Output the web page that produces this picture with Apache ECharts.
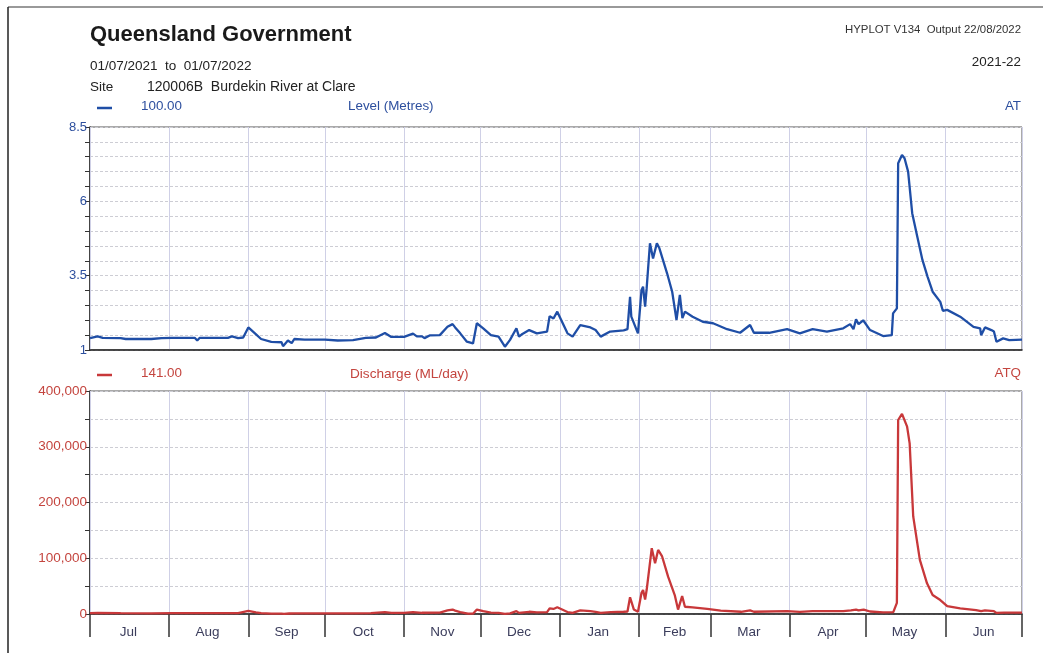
<!DOCTYPE html>
<html>
<head>
<meta charset="utf-8">
<script src="https://cdn.jsdelivr.net/npm/echarts@6/dist/echarts.min.js"></script>
<style>
html,body{margin:0;padding:0;background:#fff;}
#chart{width:1043px;height:653px;}
</style>
</head>
<body>
<div id="chart"></div>
<script>
// ---- Data ----
const months = ['Jul','Aug','Sep','Oct','Nov','Dec','Jan','Feb','Mar','Apr','May','Jun'];
const monthDays = [31,31,30,31,30,31,31,28,31,30,31,30];
const levelTickLabels = [1, 3.5, 6, 8.5];
const flowTickLabels = [0, 100000, 200000, 300000, 400000];

// Level (Metres), [day since 01/07/2021, value]
const levelData = [
[0,1.40],[3,1.46],[5,1.41],[12,1.40],[14,1.37],[24,1.37],[28,1.40],[32,1.41],[41,1.41],[42,1.32],[43,1.41],
[54,1.41],[55.6,1.46],[58,1.40],[60,1.42],[62,1.76],[64.6,1.56],[67,1.37],[71,1.27],[75,1.26],[75.6,1.13],
[77.5,1.32],[79,1.23],[80,1.37],[84,1.35],[92,1.35],[97,1.32],[103,1.33],[108,1.41],[112,1.42],[115.5,1.57],
[118,1.44],[123,1.44],[126.5,1.55],[128,1.46],[130,1.46],[131,1.40],[133,1.49],[137,1.50],[140,1.78],[142,1.87],
[143,1.76],[145,1.56],[147.6,1.28],[150,1.22],[151.5,1.90],[154,1.73],[157,1.50],[160,1.45],[162.5,1.11],
[164.5,1.34],[167,1.73],[168,1.45],[169,1.52],[172,1.67],[175,1.56],[179,1.62],[180,2.14],[181.5,2.06],[183,2.29],
[187,1.56],[189,1.45],[192,1.84],[196,1.76],[198,1.67],[200,1.45],[203.7,1.62],[209,1.66],[210.5,1.70],
[211.5,2.79],[212,2.12],[214.6,1.56],[216,3.02],[216.6,3.13],[217.4,2.46],[218,3.07],[219.3,4.59],[220.5,4.08],
[222,4.59],[223,4.42],[226,3.58],[228,2.96],[229.7,2.01],[231,2.85],[232,2.07],[233,2.29],[236,2.12],[240,1.95],
[244,1.90],[249.5,1.70],[254.6,1.58],[258.5,1.84],[260,1.58],[266,1.58],[273,1.70],[278,1.56],[283,1.70],
[288.6,1.62],[295,1.73],[297.7,1.87],[299,1.70],[300,2.03],[301,1.87],[302.8,2.00],[305.5,1.67],[310.6,1.47],
[314,1.50],[314.5,2.23],[316,2.40],[316.5,7.28],[318,7.56],[319,7.45],[320.4,7.00],[322,5.60],[324,4.81],
[326,4.03],[328,3.47],[330,2.96],[333,2.62],[334,2.32],[335.7,2.35],[340.8,2.12],[346,1.78],[348.6,1.73],
[349,1.50],[350.5,1.76],[353,1.67],[354,1.62],[355,1.28],[357.6,1.39],[360,1.33],[365,1.35]
];

// Discharge (ML/day), [day since 01/07/2021, value]
const flowData = [
[0,1500],[3,2000],[12,1500],[24,1300],[32,1500],[54,1500],[58,1600],[62,5500],[65,3000],[67,1500],[71,700],
[75,600],[76,300],[78,900],[80,1200],[92,1200],[103,1100],[110,1500],[115.5,3500],[118,2000],[123,2000],
[126.5,3500],[130,2200],[137,2500],[140,6500],[142,8000],[143,6000],[145,3500],[148,800],[150,600],[151.5,8000],
[154,5000],[157,2500],[160,2000],[162.5,300],[164.5,1200],[167,5000],[168,2000],[172,4000],[175,3000],[179,3500],
[180,10000],[181.5,9000],[183,12000],[187,3500],[189,2000],[192,6500],[196,5000],[198,4000],[200,2000],
[204,3500],[209,4000],[210.5,4500],[211.5,30000],[213,8000],[214.6,4000],[216,38000],[216.6,43000],
[217.4,26000],[218,43000],[220,118000],[221.3,91000],[222.5,115000],[224,104000],[226.4,67000],[229,34000],
[230.3,8000],[231.9,32000],[233,13000],[236,12000],[241.7,9000],[247,6000],[255,4000],[258.5,6500],[260,4000],
[273,5000],[278,3800],[283,5000],[295,5000],[298,6500],[300,8000],[301,6500],[303,8000],[305.5,4500],
[310.6,3000],[314.6,3500],[316,20000],[316.5,348000],[318,359000],[320,336000],[321,306000],[322.4,175000],
[325,97000],[327.8,55000],[330,34000],[333,25000],[335.7,14000],[340.8,10000],[347,7000],[349,5000],
[350.5,6500],[354,5000],[355,2000],[358,2500],[365,2500]
];

// ---- Build day categories ----
const monthStarts = [];
const monthMids = [];
let acc = 0;
monthDays.forEach(function (d) { monthStarts.push(acc); monthMids.push(acc + Math.floor(d / 2)); acc += d; });
monthStarts.push(acc);
const totalDays = acc;
const dayCats = [];
for (let i = 0; i <= totalDays; i++) {
  const m = monthMids.indexOf(i);
  dayCats.push(m >= 0 ? months[m] : '');
}
const isStart = function (i) { return monthStarts.indexOf(i) >= 0; };
const isMid = function (i) { return monthMids.indexOf(i) >= 0; };

const FONT = "'Liberation Sans', Arial, sans-serif";
const BLUE = '#2d4f9e';
const RED = '#c4453f';
const LINE_BLUE = '#1f4ea6';
const LINE_RED = '#c8383a';

const chart = echarts.init(document.getElementById('chart'));

function catAxis(gi, showLabels) {
  return {
    type: 'category', gridIndex: gi, data: dayCats, boundaryGap: false,
    axisLine: { show: true, lineStyle: { color: '#222', width: 1.5 } },
    axisTick: { show: showLabels, interval: function (i) { return isStart(i); }, length: 23, lineStyle: { color: '#333', width: 1.5 } },
    axisLabel: { show: showLabels, interval: function (i) { return isMid(i); }, color: '#3b3d5c', fontSize: 13.5, fontFamily: FONT, margin: 11 },
    splitLine: { show: true, interval: function (i) { return isStart(i); }, lineStyle: { color: '#cfd0e6', width: 1 } },
    z: 3
  };
}
function valAxisX(gi) {
  return { type: 'value', gridIndex: gi, min: 0, max: totalDays, show: false };
}

chart.setOption({
  animation: false,
  backgroundColor: '#ffffff',
  grid: [
    { left: 90, right: 21, top: 127, height: 223, show: true, borderColor: '#555', borderWidth: 1, backgroundColor: 'transparent' },
    { left: 90, right: 21, top: 391, height: 223, show: true, borderColor: '#555', borderWidth: 1, backgroundColor: 'transparent' }
  ],
  xAxis: [catAxis(0, false), valAxisX(0), catAxis(1, true), valAxisX(1)],
  yAxis: [
    {
      type: 'value', gridIndex: 0, min: 1, max: 8.5, interval: 0.5,
      axisLine: { show: true, lineStyle: { color: '#222', width: 1.5 } },
      axisTick: { show: true, length: 5, lineStyle: { color: '#333' } },
      axisLabel: { color: BLUE, fontSize: 13, fontFamily: FONT, margin: 3,
        formatter: function (v) { return levelTickLabels.some(function (t) { return Math.abs(t - v) < 1e-6; }) ? String(v) : ''; } },
      splitLine: { show: true, lineStyle: { color: '#cdcdd4', type: [3, 2], width: 1 } }
    },
    {
      type: 'value', gridIndex: 1, min: 0, max: 400000, interval: 50000,
      axisLine: { show: true, lineStyle: { color: '#222', width: 1.5 } },
      axisTick: { show: true, length: 5, lineStyle: { color: '#333' } },
      axisLabel: { color: RED, fontSize: 13.5, fontFamily: FONT, margin: 3,
        formatter: function (v) { return flowTickLabels.indexOf(v) >= 0 ? v.toLocaleString('en-US') : ''; } },
      splitLine: { show: true, lineStyle: { color: '#cdcdd4', type: [3, 2], width: 1 } }
    }
  ],
  series: [
    { type: 'line', xAxisIndex: 1, yAxisIndex: 0, data: levelData, showSymbol: false, symbol: 'none',
      lineStyle: { color: LINE_BLUE, width: 2.3 }, z: 5 },
    { type: 'line', xAxisIndex: 3, yAxisIndex: 1, data: flowData, showSymbol: false, symbol: 'none',
      lineStyle: { color: LINE_RED, width: 2.3 }, z: 5 }
  ],
  graphic: [
    { type: 'line', shape: { x1: 8, y1: 7, x2: 1043, y2: 7 }, style: { stroke: '#777', lineWidth: 1.5 } },
    { type: 'line', shape: { x1: 8, y1: 7, x2: 8, y2: 653 }, style: { stroke: '#222', lineWidth: 1.5 } },
    { type: 'text', left: 90, top: 24, style: { text: 'Queensland Government', font: "bold 22px " + FONT, fill: '#1a1a1a' } },
    { type: 'text', left: 90, top: 59, style: { text: '01/07/2021  to  01/07/2022', font: "13.5px " + FONT, fill: '#222' } },
    { type: 'text', left: 90, top: 80, style: { text: 'Site', font: "13.5px " + FONT, fill: '#222' } },
    { type: 'text', left: 147, top: 80, style: { text: '120006B  Burdekin River at Clare', font: "14px " + FONT, fill: '#222' } },
    { type: 'text', right: 22, top: 24, style: { text: 'HYPLOT V134  Output 22/08/2022', font: "11.4px " + FONT, fill: '#333' } },
    { type: 'text', right: 22, top: 56, style: { text: '2021-22', font: "13.4px " + FONT, fill: '#222' } },
    { type: 'line', shape: { x1: 97, y1: 108, x2: 112, y2: 108 }, style: { stroke: LINE_BLUE, lineWidth: 2.5 } },
    { type: 'text', left: 141, top: 100, style: { text: '100.00', font: "13.4px " + FONT, fill: BLUE } },
    { type: 'text', left: 348, top: 100, style: { text: 'Level (Metres)', font: "13.4px " + FONT, fill: BLUE } },
    { type: 'text', right: 22, top: 100, style: { text: 'AT', font: "13.4px " + FONT, fill: BLUE } },
    { type: 'line', shape: { x1: 97, y1: 375, x2: 112, y2: 375 }, style: { stroke: LINE_RED, lineWidth: 2.5 } },
    { type: 'text', left: 141, top: 367, style: { text: '141.00', font: "13.4px " + FONT, fill: RED } },
    { type: 'text', left: 350, top: 367, style: { text: 'Discharge (ML/day)', font: "13.6px " + FONT, fill: RED } },
    { type: 'text', right: 22, top: 367, style: { text: 'ATQ', font: "13.4px " + FONT, fill: RED } }
  ]
});
</script>
</body>
</html>
